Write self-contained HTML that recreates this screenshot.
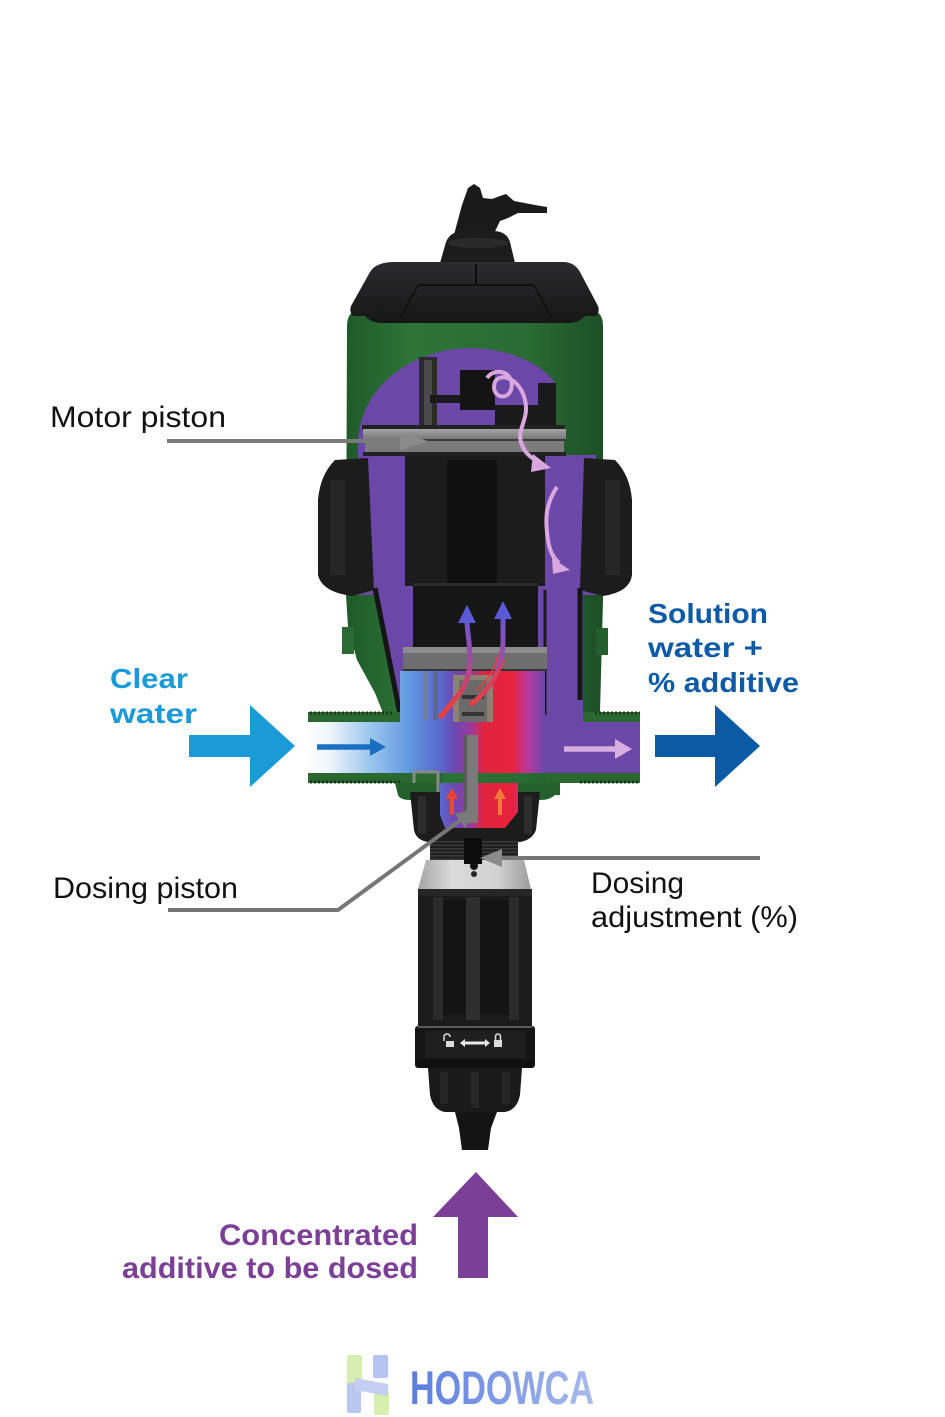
<!DOCTYPE html>
<html><head><meta charset="utf-8">
<style>
html,body{margin:0;padding:0;background:#fff;}
svg{display:block;}
text{font-family:"Liberation Sans",Arial,sans-serif;}
</style></head><body>
<svg width="945" height="1417" viewBox="0 0 945 1417" xmlns="http://www.w3.org/2000/svg">
<defs>
 <linearGradient id="gGreen" x1="0" x2="1" y1="0" y2="0">
  <stop offset="0" stop-color="#1f5a29"/>
  <stop offset="0.25" stop-color="#2d7437"/>
  <stop offset="0.7" stop-color="#2a6c34"/>
  <stop offset="1" stop-color="#1c4f25"/>
 </linearGradient>
 <linearGradient id="gCap" x1="0" y1="0" x2="0" y2="1">
  <stop offset="0" stop-color="#2c2c2e"/>
  <stop offset="1" stop-color="#161617"/>
 </linearGradient>
 <linearGradient id="gCenter" x1="308" x2="560" y1="0" y2="0" gradientUnits="userSpaceOnUse">
  <stop offset="0" stop-color="#ffffff"/>
  <stop offset="0.087" stop-color="#eef5fc"/>
  <stop offset="0.246" stop-color="#9cc6ee"/>
  <stop offset="0.405" stop-color="#5f98e0"/>
  <stop offset="0.524" stop-color="#5a68cc"/>
  <stop offset="0.583" stop-color="#6c48b0"/>
  <stop offset="0.643" stop-color="#9a3aa0"/>
  <stop offset="0.698" stop-color="#e0243e"/>
  <stop offset="0.81" stop-color="#e8223c"/>
  <stop offset="0.873" stop-color="#b83a9e"/>
  <stop offset="0.94" stop-color="#6b47a7"/>
  <stop offset="1" stop-color="#6b47a7"/>
 </linearGradient>
 <linearGradient id="gCollar" x1="0" x2="1" y1="0" y2="0">
  <stop offset="0" stop-color="#a6a6a6"/>
  <stop offset="0.3" stop-color="#dadada"/>
  <stop offset="0.7" stop-color="#d2d2d2"/>
  <stop offset="1" stop-color="#9c9c9c"/>
 </linearGradient>
 <linearGradient id="gPiston" x1="0" x2="0" y1="0" y2="1">
  <stop offset="0" stop-color="#a4a4a4"/>
  <stop offset="1" stop-color="#7a7a7a"/>
 </linearGradient>
 <linearGradient id="gFlow" x1="0" x2="0" y1="705" y2="610" gradientUnits="userSpaceOnUse">
  <stop offset="0" stop-color="#e8403a"/>
  <stop offset="0.5" stop-color="#a04aa8"/>
  <stop offset="1" stop-color="#5a5ad6"/>
 </linearGradient>
 <linearGradient id="gLogo" x1="410" x2="597" y1="0" y2="0" gradientUnits="userSpaceOnUse">
  <stop offset="0" stop-color="#5b7ddd"/>
  <stop offset="1" stop-color="#a9bbee"/>
 </linearGradient>
</defs>

<!-- ===== Green upper/lower body ===== -->
<path d="M358 310 L592 310 Q603 312 603 326 L603 600 L600 712 L560 712 L560 795 L400 795 L400 713 L383 713 L375 693 L357 660 L348 627 L346 595 L347 326 Q347 312 358 310 Z" fill="url(#gGreen)"/>
<rect x="342" y="627" width="12" height="27" fill="#2a6a33"/>
<rect x="596" y="628" width="12" height="27" fill="#245e2d"/>

<!-- ===== Nozzle & cap ===== -->
<path d="M452 242 L462 205 L468 188 L474 184 L480 188 L483 198 L492 199 L500 196 L506 194 L514 201 L535 205 L547 207 L547 213 L518 213 L508 218 L500 221 L490 242 Z" fill="#1a1a1b"/>
<path d="M440 263 L446 242 Q450 232 462 231 L495 231 Q507 232 510 242 L515 263 Z" fill="#1c1c1d"/>
<ellipse cx="478" cy="243" rx="30" ry="5" fill="#2a2a2b"/>
<path d="M392 262 L565 262 Q575 263 580 272 L598 306 Q600 312 596 316 L585 316 Q580 322 570 323 L380 323 Q370 322 365 316 L353 316 Q349 312 351 306 L370 272 Q375 263 392 262 Z" fill="url(#gCap)"/>
<path d="M418 285 L400 318 M534 285 L552 318 M418 285 L534 285" stroke="#111" stroke-width="2" fill="none"/>
<line x1="476" y1="264" x2="476" y2="284" stroke="#0c0c0c" stroke-width="2"/>

<!-- ===== Purple interior ===== -->
<path d="M358 470 L358 440 C362 380 420 348 470 348 C510 348 545 365 556 385 L556 470 Z" fill="#6b47a7"/>
<rect x="358" y="455" width="238" height="140" fill="#6b47a7"/>

<!-- mechanism above piston -->
<rect x="419" y="357" width="18" height="72" fill="#2a2a2a"/>
<rect x="424" y="360" width="8" height="68" fill="#4a4a4a"/>
<rect x="430" y="395" width="35" height="8" fill="#1a1a1a"/>
<rect x="460" y="370" width="35" height="40" fill="#141414"/>
<rect x="538" y="383" width="18" height="46" fill="#1a1a1a"/>
<rect x="495" y="405" width="45" height="24" fill="#1a1a1a"/>

<!-- motor piston -->
<rect x="362" y="425" width="203" height="5" fill="#222"/>
<rect x="363" y="429" width="203" height="10" fill="url(#gPiston)"/>
<rect x="363" y="439" width="203" height="2" fill="#3a3a3a"/>
<rect x="365" y="441" width="199" height="11" fill="#7c7c7c"/>
<rect x="363" y="452" width="203" height="4" fill="#222"/>

<!-- central cylinder -->
<rect x="405" y="456" width="140" height="130" fill="#1b1b1b"/>
<rect x="447" y="460" width="50" height="124" fill="#101010"/>

<!-- side housings -->
<path d="M335 460 L368 458 L374 590 L352 596 Q322 592 318 575 L318 500 Q320 475 335 460 Z" fill="#1c1c1d"/>
<path d="M330 480 L345 480 L345 575 L330 575 Z" fill="#262627"/>
<path d="M615 460 L584 458 L580 590 L603 596 Q630 592 632 575 L632 500 Q630 475 615 460 Z" fill="#1c1c1d"/>
<path d="M605 480 L620 480 L620 575 L605 575 Z" fill="#262627"/>

<!-- lower purple -->
<path d="M377 590 L583 590 L583 725 L400 725 Z" fill="#6b47a7"/>
<path d="M375 588 L400 714" stroke="#151515" stroke-width="5"/>
<path d="M580 588 L580 700" stroke="#151515" stroke-width="5"/>
<path d="M545 590 L545 715" stroke="#1a1a1a" stroke-width="3"/>
<rect x="413" y="583" width="125" height="64" fill="#161616"/>
<rect x="413" y="583" width="125" height="3" fill="#2a2a2a"/>

<!-- plate -->
<rect x="403" y="647" width="144" height="24" fill="#6e6e6e"/>
<rect x="403" y="647" width="144" height="6" fill="#8c8c8c"/>
<rect x="403" y="669" width="144" height="2" fill="#333"/>

<!-- region below plate -->
<rect x="400" y="671" width="145" height="52" fill="url(#gCenter)"/>
<rect x="423" y="672" width="5" height="48" fill="#6d7fa6"/>
<rect x="433" y="672" width="5" height="48" fill="#5d6796"/>
<rect x="453" y="675" width="40" height="60" fill="#8c8272"/>
<rect x="459" y="680" width="28" height="50" fill="#6a6a6a"/>
<rect x="462" y="695" width="22" height="4" fill="#333"/>
<rect x="462" y="712" width="22" height="4" fill="#333"/>

<!-- pipes -->
<rect x="308" y="722" width="332" height="51" fill="url(#gCenter)"/>
<rect x="308" y="712" width="92" height="10" fill="#2a6830"/>
<line x1="310" y1="713" x2="392" y2="713" stroke="#163a1a" stroke-width="3" stroke-dasharray="2 2"/>
<rect x="308" y="773" width="135" height="10" fill="#2a6830"/>
<line x1="310" y1="782" x2="400" y2="782" stroke="#163a1a" stroke-width="3" stroke-dasharray="2 2"/>
<rect x="583" y="712" width="57" height="10" fill="#2a6830"/>
<line x1="595" y1="713" x2="640" y2="713" stroke="#163a1a" stroke-width="3" stroke-dasharray="2 2"/>
<rect x="545" y="773" width="95" height="10" fill="#2a6830"/>
<line x1="580" y1="782" x2="640" y2="782" stroke="#163a1a" stroke-width="3" stroke-dasharray="2 2"/>
<path d="M395 783 L560 783 L555 795 Q550 800 540 800 L410 800 Q400 800 398 795 Z" fill="#24602c"/>
<path d="M414 783 L414 772 L438 772 L438 792" stroke="#888" stroke-width="3" fill="none"/>

<!-- nut under body -->
<path d="M410 792 L540 792 L536 830 Q532 840 520 842 L428 842 Q416 840 414 830 Z" fill="#1c1c1c"/>
<rect x="418" y="796" width="8" height="38" fill="#2c2c2c"/>
<rect x="524" y="796" width="8" height="38" fill="#2c2c2c"/>
<path d="M440 783 L518 783 L518 812 L505 828 L445 828 L440 815 Z" fill="url(#gCenter)"/>
<rect x="464" y="735" width="14" height="88" fill="#7a7a7a"/>
<rect x="464" y="735" width="3" height="88" fill="#5a5a5a"/>
<path d="M452 815 L452 798" stroke="#f0452e" stroke-width="4"/>
<polygon points="446,799 452,788 458,799" fill="#f0452e"/>
<path d="M500 815 L500 798" stroke="#f07a3a" stroke-width="4"/>
<polygon points="494,799 500,788 506,799" fill="#f07a3a"/>

<!-- thread, collar -->
<rect x="430" y="840" width="88" height="22" fill="#1e1e1e"/>
<line x1="474" y1="841" x2="474" y2="862" stroke="#3a3a3a" stroke-width="88" stroke-dasharray="1.5 2"/>
<path d="M426 860 L524 860 L531 889 L418 889 Z" fill="url(#gCollar)"/>
<rect x="464" y="838" width="18" height="26" fill="#0c0c0c"/>
<circle cx="474" cy="866" r="4" fill="#111"/>
<circle cx="474" cy="874" r="3" fill="#222"/>

<!-- dosing body -->
<rect x="418" y="889" width="114" height="137" fill="#1b1b1b"/>
<rect x="418" y="889" width="114" height="7" fill="#262626"/>
<rect x="433" y="897" width="10" height="123" fill="#2b2b2b"/>
<rect x="443" y="900" width="23" height="115" fill="#141414"/>
<rect x="466" y="897" width="14" height="123" fill="#2e2e2e"/>
<rect x="480" y="900" width="29" height="115" fill="#141414"/>
<rect x="509" y="897" width="10" height="123" fill="#2b2b2b"/>

<!-- lock ring -->
<rect x="415" y="1026" width="120" height="42" rx="3" fill="#151515"/>
<rect x="418" y="1026" width="114" height="2" fill="#5a5a5a"/>
<rect x="425" y="1031" width="100" height="27" fill="#1f1f1f"/>
<rect x="418" y="1060" width="114" height="8" fill="#0f0f0f"/>
<rect x="446" y="1041" width="8" height="6" fill="#dcdcdc"/>
<path d="M444 1041 L444 1037 Q444 1034 447 1034 Q450 1034 450 1037" stroke="#dcdcdc" stroke-width="1.5" fill="none"/>
<polygon points="460,1043 465,1039 465,1041.5 485,1041.5 485,1039 490,1043 485,1047 485,1044.5 465,1044.5 465,1047" fill="#e8e8e8"/>
<rect x="494" y="1040" width="8" height="7" fill="#dcdcdc"/>
<path d="M495.5 1040 L495.5 1037 Q495.5 1034 498 1034 Q500.5 1034 500.5 1037 L500.5 1040" stroke="#dcdcdc" stroke-width="1.5" fill="none"/>

<!-- lower nut & tip -->
<path d="M428 1068 L522 1068 L520 1095 Q517 1110 505 1112 L445 1112 Q433 1110 430 1095 Z" fill="#1a1a1a"/>
<rect x="440" y="1072" width="8" height="32" fill="#262626"/>
<rect x="471" y="1072" width="8" height="36" fill="#262626"/>
<rect x="502" y="1072" width="8" height="32" fill="#262626"/>
<path d="M455 1112 L497 1112 L491 1128 L488 1150 L462 1150 L459 1128 Z" fill="#141414"/>

<!-- ===== flow arrows ===== -->
<path d="M317 747 L372 747" stroke="#1b6fc2" stroke-width="5.5"/>
<polygon points="370,738 386,747 370,756" fill="#1b6fc2"/>
<path d="M564 749 L617 749" stroke="#d8aee0" stroke-width="5.5"/>
<polygon points="615,739 632,749 615,759" fill="#d8aee0"/>
<path d="M440 718 C452 700 470 690 470 660 C470 640 467 632 467 621" stroke="url(#gFlow)" stroke-width="5" fill="none"/>
<polygon points="458,623 467,605 476,623" fill="#5a5ad6"/>
<path d="M470 705 C490 690 503 670 503 640 L503 618" stroke="url(#gFlow)" stroke-width="5" fill="none"/>
<polygon points="494,619 503,601 512,619" fill="#5a5ad6"/>
<path d="M476 690 C488 680 495 670 498 655 M482 692 C492 682 500 672 505 660" stroke="#e8403a" stroke-width="1.5" fill="none"/>
<path d="M487 378 C495 366 516 372 511 390 C506 402 490 396 495 382 C500 372 520 378 525 400 C530 420 515 430 522 445 C526 455 533 459 540 462" stroke="#d9a6e0" stroke-width="4" fill="none"/>
<polygon points="533,454 551,468 531,472" fill="#d9a6e0"/>
<path d="M557 487 C545 505 545 520 548 540 C550 553 554 558 559 563" stroke="#d9a6e0" stroke-width="4" fill="none"/>
<polygon points="552,558 570,570 553,574" fill="#d9a6e0"/>

<!-- ===== leader lines ===== -->
<line x1="167" y1="441" x2="402" y2="441" stroke="#7a7a7a" stroke-width="4"/>
<polygon points="400,432 428,441 400,450" fill="#8a8a8a"/>
<polyline points="168,910 338,910 462,819" stroke="#767676" stroke-width="4" fill="none"/>
<polygon points="478,808 465,828 455,814" fill="#7a7a7a"/>
<line x1="760" y1="858" x2="500" y2="858" stroke="#767676" stroke-width="4"/>
<polygon points="502,849 480,858 502,867" fill="#8a8a8a"/>

<!-- ===== big arrows ===== -->
<polygon points="189,735 250,735 250,705 295,746 250,787 250,757 189,757" fill="#1a9ad6"/>
<polygon points="655,735 715,735 715,705 760,746 715,787 715,757 655,757" fill="#0b5aa5"/>
<polygon points="476,1172 518,1217 488,1217 488,1278 458,1278 458,1217 433,1217" fill="#7b3f97"/>

<!-- ===== text ===== -->
<text x="50" y="427" font-size="30" fill="#111" textLength="176" lengthAdjust="spacingAndGlyphs">Motor piston</text>
<text x="53" y="898" font-size="30" fill="#111" textLength="185" lengthAdjust="spacingAndGlyphs">Dosing piston</text>
<text x="591" y="893" font-size="30" fill="#111" textLength="93" lengthAdjust="spacingAndGlyphs">Dosing</text>
<text x="591" y="927" font-size="30" fill="#111" textLength="207" lengthAdjust="spacingAndGlyphs">adjustment (%)</text>

<text x="110" y="688" font-size="28" font-weight="bold" fill="#1a9ad6" textLength="78" lengthAdjust="spacingAndGlyphs">Clear</text>
<text x="110" y="723" font-size="28" font-weight="bold" fill="#1a9ad6" textLength="87" lengthAdjust="spacingAndGlyphs">water</text>

<text x="648" y="623" font-size="28" font-weight="bold" fill="#0d5aa7" textLength="120" lengthAdjust="spacingAndGlyphs">Solution</text>
<text x="648" y="657" font-size="28" font-weight="bold" fill="#0d5aa7" textLength="115" lengthAdjust="spacingAndGlyphs">water +</text>
<text x="648" y="692" font-size="28" font-weight="bold" fill="#0d5aa7" textLength="151" lengthAdjust="spacingAndGlyphs">% additive</text>

<text x="219" y="1245" font-size="30" font-weight="bold" fill="#7b3f97" textLength="199" lengthAdjust="spacingAndGlyphs">Concentrated</text>
<text x="122" y="1278" font-size="30" font-weight="bold" fill="#7b3f97" textLength="296" lengthAdjust="spacingAndGlyphs">additive to be dosed</text>

<!-- ===== logo ===== -->
<rect x="347" y="1355" width="15" height="30" rx="2" fill="#d6efb0"/>
<rect x="347" y="1383" width="14" height="30" rx="2" fill="#b9c6f0"/>
<rect x="373" y="1355" width="15" height="23" rx="2" fill="#b6c4f2"/>
<rect x="374" y="1390" width="15" height="25" rx="2" fill="#d6efb0"/>
<polygon points="355,1378 388,1384 388,1396 355,1390" fill="#c5cff3"/>
<text x="410" y="1404" font-size="47" font-weight="bold" fill="url(#gLogo)" textLength="184" lengthAdjust="spacingAndGlyphs">HODOWCA</text>
</svg>
</body></html>
